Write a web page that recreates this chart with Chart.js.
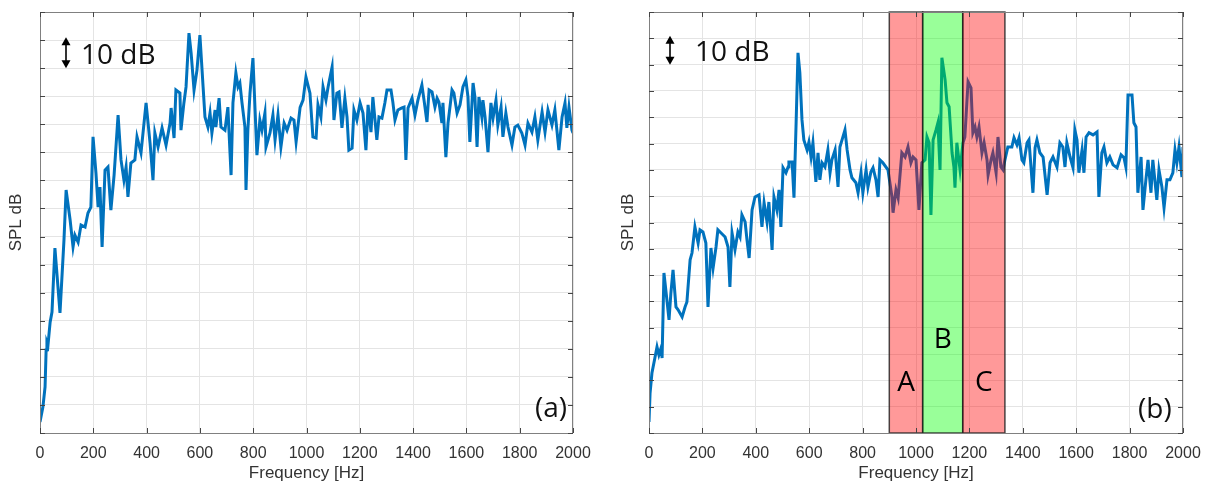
<!DOCTYPE html>
<html>
<head>
<meta charset="utf-8">
<script src="https://cdn.jsdelivr.net/npm/chart.js@4.4.0/dist/chart.umd.min.js"></script>
<style>
html, body { margin: 0; padding: 0; background: #fff; }
#wrap { position: relative; width: 1213px; height: 487px; }
canvas { position: absolute; top: 0; }
#c1 { left: 0; }
#c2 { left: 610px; }
</style>
</head>
<body>
<div id="wrap">
  <canvas id="c1" width="610" height="487"></canvas>
  <canvas id="c2" width="603" height="487"></canvas>
</div>
<script>
// x tick labels (Hz)
const freqTicks = [0, 200, 400, 600, 800, 1000, 1200, 1400, 1600, 1800, 2000];

// panel (a) spectrum
const freqA = [
  0, 11, 19, 23, 26, 30, 38, 45, 56, 75,
  90, 98, 113, 124, 131, 143, 154, 169, 180, 191,
  199, 210, 218, 225, 233, 244, 255, 266, 278, 293,
  304, 315, 323, 330, 341, 356, 364, 379, 398, 413,
  424, 431, 443, 458, 473, 488, 492, 503, 510, 525,
  529, 540, 548, 559, 567, 578, 589, 600, 612, 619,
  630, 638, 645, 657, 660, 672, 679, 694, 705, 713,
  717, 724, 735, 743, 750, 758, 769, 773, 780, 788,
  799, 807, 814, 825, 833, 844, 848, 863, 874, 882,
  893, 904, 916, 927, 942, 953, 961, 976, 987, 998,
  1013, 1024, 1036, 1043, 1054, 1062, 1073, 1081, 1096, 1103,
  1114, 1122, 1133, 1144, 1152, 1159, 1171, 1178, 1189, 1201,
  1212, 1223, 1231, 1242, 1249, 1264, 1272, 1283, 1294, 1302,
  1317, 1324, 1332, 1343, 1358, 1366, 1373, 1381, 1396, 1407,
  1418, 1433, 1441, 1452, 1460, 1471, 1482, 1490, 1497, 1508,
  1512, 1523, 1531, 1546, 1553, 1565, 1576, 1587, 1598, 1606,
  1613, 1625, 1632, 1640, 1647, 1658, 1662, 1670, 1681, 1692,
  1700, 1711, 1718, 1730, 1737, 1748, 1756, 1771, 1782, 1793,
  1808, 1820, 1831, 1846, 1857, 1868, 1884, 1895, 1906, 1921,
  1932, 1947, 1959, 1970, 1977, 1985, 1996, 2000
];
const splA = [
  3.9, 9.3, 16.4, 29.6, 32.4, 31.4, 39.5, 43.1, 65.9, 42.8,
  68.8, 86.6, 75.9, 66.3, 70.5, 68.0, 74.1, 73.4, 78.4, 80.5,
  105.5, 92.6, 80.5, 87.6, 66.3, 93.7, 94.8, 79.4, 91.9, 113.3,
  97.3, 90.1, 94.8, 84.1, 96.2, 97.3, 105.5, 99.8, 117.6, 103.3,
  90.1, 106.9, 101.9, 108.7, 102.6, 110.4, 115.8, 105.1, 122.2, 121.1,
  107.9, 117.6, 123.3, 142.5, 135.4, 122.2, 129.3, 141.8, 123.3, 112.6,
  109.0, 114.0, 106.9, 115.1, 109.0, 119.3, 109.0, 107.9, 116.1, 99.8,
  91.9, 117.6, 128.3, 123.3, 124.7, 117.6, 109.0, 86.6, 107.9, 121.1,
  133.6, 115.1, 99.0, 111.5, 107.9, 114.0, 101.9, 106.9, 113.3, 104.4,
  113.3, 101.9, 110.4, 107.9, 112.2, 111.5, 103.7, 116.0, 118.6, 126.8,
  121.1, 105.5, 105.1, 116.9, 112.6, 123.3, 118.6, 123.3, 130.4, 111.5,
  121.1, 121.5, 108.7, 119.3, 112.6, 100.8, 101.5, 115.1, 111.5, 117.6,
  114.0, 100.8, 116.9, 107.2, 119.7, 104.4, 112.6, 112.2, 117.6, 122.2,
  122.2, 117.9, 111.5, 115.1, 115.8, 116.1, 97.3, 115.8, 119.3, 113.3,
  118.6, 124.0, 118.6, 110.8, 122.2, 121.5, 116.1, 119.3, 117.9, 110.4,
  117.6, 98.3, 110.4, 122.2, 121.1, 114.0, 116.9, 123.3, 125.8, 119.7,
  103.7, 124.7, 119.7, 101.9, 119.7, 112.6, 118.6, 112.6, 100.1, 117.6,
  112.2, 118.6, 109.7, 116.1, 105.5, 114.0, 109.0, 102.6, 109.0, 109.7,
  106.9, 102.6, 110.4, 107.2, 112.6, 104.4, 114.4, 107.2, 115.1, 109.7,
  115.1, 100.8, 112.6, 117.6, 108.7, 116.1, 107.9, 106.9
];

// panel (b) spectrum
const freqB = [
  0, 4, 11, 22, 30, 37, 45, 49, 56, 67,
  75, 82, 90, 101, 109, 124, 135, 142, 154, 161,
  172, 184, 191, 202, 213, 221, 232, 240, 251, 258,
  270, 285, 296, 303, 311, 322, 333, 341, 348, 360,
  367, 375, 386, 397, 412, 423, 431, 442, 449, 461,
  468, 479, 487, 494, 502, 513, 521, 524, 536, 543,
  551, 558, 565, 573, 580, 592, 599, 607, 614, 625,
  633, 640, 648, 659, 670, 678, 685, 697, 708, 715,
  723, 734, 742, 753, 760, 775, 783, 794, 801, 813,
  820, 831, 839, 850, 858, 865, 876, 895, 910, 914,
  925, 933, 947, 959, 970, 981, 989, 1000, 1011, 1022,
  1034, 1041, 1049, 1056, 1064, 1075, 1082, 1090, 1097, 1109,
  1116, 1124, 1135, 1142, 1146, 1153, 1165, 1176, 1183, 1195,
  1206, 1213, 1221, 1228, 1236, 1247, 1255, 1266, 1270, 1281,
  1288, 1300, 1307, 1318, 1326, 1333, 1344, 1359, 1367, 1378,
  1386, 1397, 1404, 1416, 1423, 1438, 1446, 1453, 1464, 1476,
  1491, 1502, 1513, 1528, 1539, 1550, 1558, 1565, 1577, 1588,
  1595, 1603, 1610, 1622, 1629, 1637, 1648, 1663, 1678, 1685,
  1696, 1704, 1715, 1726, 1738, 1753, 1768, 1779, 1786, 1794,
  1809, 1816, 1824, 1831, 1843, 1850, 1861, 1869, 1880, 1887,
  1902, 1910, 1921, 1929, 1940, 1951, 1962, 1970, 1977, 1985,
  1996, 2000
];
const splB = [
  4.2, 15.2, 22.8, 28.5, 32.7, 29.7, 32.3, 28.5, 60.8, 50.6,
  43.0, 53.2, 62.0, 47.9, 46.8, 44.1, 47.9, 49.8, 65.8, 68.4,
  78.3, 72.2, 77.2, 76.4, 72.2, 47.9, 70.3, 62.7, 70.7, 77.2,
  76.0, 74.5, 70.7, 55.5, 76.0, 69.6, 76.4, 74.5, 82.9, 80.2,
  73.4, 66.5, 84.8, 89.7, 90.5, 78.3, 87.5, 80.2, 87.8, 69.6,
  89.7, 84.8, 92.4, 78.3, 100.8, 98.9, 101.1, 103.0, 103.0, 89.4,
  117.9, 144.5, 136.9, 119.0, 111.4, 107.6, 110.6, 104.9, 110.3, 95.4,
  106.5, 96.2, 102.7, 101.1, 107.6, 98.9, 103.8, 107.6, 93.5, 108.7,
  111.4, 115.2, 107.6, 100.0, 97.0, 95.1, 91.3, 98.9, 91.3, 100.0,
  93.5, 99.2, 100.8, 96.2, 89.7, 103.8, 102.7, 100.0, 89.7, 83.7,
  92.4, 89.4, 106.5, 104.9, 108.7, 102.7, 104.9, 103.8, 84.8, 102.7,
  103.8, 112.5, 110.3, 82.9, 111.4, 115.2, 117.9, 100.0, 142.6, 134.2,
  125.5, 124.0, 106.5, 101.1, 93.2, 110.3, 100.0, 110.3, 112.5, 133.5,
  131.2, 114.1, 116.3, 112.5, 116.3, 106.5, 110.3, 103.8, 98.1, 103.8,
  106.5, 98.9, 112.5, 101.1, 100.0, 103.8, 108.7, 108.7, 112.2, 109.5,
  112.2, 103.8, 102.7, 110.3, 111.4, 91.3, 108.4, 111.4, 106.5, 104.9,
  90.5, 102.7, 104.9, 101.1, 110.3, 108.7, 101.1, 110.3, 104.9, 100.8,
  115.2, 111.4, 98.9, 107.6, 98.9, 112.5, 114.1, 113.3, 114.4, 89.7,
  106.5, 108.7, 102.7, 104.9, 101.9, 100.8, 105.7, 104.6, 101.1, 128.5,
  128.5, 117.9, 116.3, 91.3, 104.9, 84.8, 96.2, 103.8, 91.3, 103.8,
  88.6, 100.0, 93.5, 85.6, 96.2, 96.2, 98.9, 107.6, 102.7, 108.7,
  97.3, 108.7
];

// frequency bands A, B, C in panel (b)
const bandEdges = [900, 1025, 1175, 1333];
const bandLabels = ['A', 'B', 'C'];
const bandLabelLevels = [19, 35.5, 19];

const BLUE = '#0072BD';
const bandFills = ['rgba(255,0,0,0.4)', 'rgba(0,255,0,0.4)', 'rgba(255,0,0,0.4)'];
const TXT = "'Open Sans', 'Noto Sans', sans-serif";

function drawArrow(ctx, x, y0, y1) {
  ctx.save();
  ctx.strokeStyle = '#000';
  ctx.fillStyle = '#000';
  ctx.lineWidth = 1.6;
  ctx.beginPath();
  ctx.moveTo(x, y0 + 5);
  ctx.lineTo(x, y1 - 5);
  ctx.stroke();
  ctx.beginPath();
  ctx.moveTo(x, y0); ctx.lineTo(x - 4.5, y0 + 8); ctx.lineTo(x + 4.5, y0 + 8);
  ctx.closePath(); ctx.fill();
  ctx.beginPath();
  ctx.moveTo(x, y1); ctx.lineTo(x - 4.5, y1 - 8); ctx.lineTo(x + 4.5, y1 - 8);
  ctx.closePath(); ctx.fill();
  ctx.restore();
}

function overlay(cfg) {
  return {
    id: 'overlay',
    afterDatasetsDraw(chart) {
      if (!cfg.bands) return;
      const {ctx, chartArea: a, scales: {x, y}} = chart;
      ctx.save();
      for (let i = 0; i < bandLabels.length; i++) {
        const x0 = x.getPixelForValue(bandEdges[i]);
        const x1 = x.getPixelForValue(bandEdges[i + 1]);
        ctx.fillStyle = bandFills[i];
        ctx.fillRect(x0, a.top, x1 - x0, a.bottom - a.top);
        ctx.strokeStyle = 'rgba(30,30,30,0.8)';
        ctx.lineWidth = 1.5;
        ctx.strokeRect(x0, a.top, x1 - x0, a.bottom - a.top);
      }
      ctx.fillStyle = '#000';
      ctx.font = '28px ' + TXT;
      ctx.textAlign = 'center';
      ctx.textBaseline = 'middle';
      for (let i = 0; i < bandLabels.length; i++) {
        const xc = x.getPixelForValue((bandEdges[i] + bandEdges[i + 1]) / 2);
        ctx.fillText(bandLabels[i], xc, y.getPixelForValue(bandLabelLevels[i]));
      }
      ctx.restore();
    },
    afterDraw(chart) {
      const {ctx, chartArea: a, scales: {x, y}} = chart;
      ctx.save();
      // box
      ctx.strokeStyle = '#808080';
      ctx.lineWidth = 1;
      ctx.strokeRect(Math.round(a.left) + 0.5, Math.round(a.top) + 0.5,
        Math.round(a.right - a.left) - 1, Math.round(a.bottom - a.top));
      // inward ticks
      ctx.strokeStyle = '#444';
      ctx.beginPath();
      x.ticks.forEach(t => {
        const px = Math.round(x.getPixelForValue(t.value)) + 0.5;
        ctx.moveTo(px, a.top); ctx.lineTo(px, a.top + 5);
        ctx.moveTo(px, a.bottom); ctx.lineTo(px, a.bottom - 5);
      });
      y.ticks.forEach(t => {
        const py = Math.round(y.getPixelForValue(t.value)) + 0.5;
        ctx.moveTo(a.left, py); ctx.lineTo(a.left + 5, py);
        ctx.moveTo(a.right, py); ctx.lineTo(a.right - 5, py);
      });
      ctx.stroke();
      // 10 dB scale arrow
      drawArrow(ctx, a.left + cfg.arrowDx, y.getPixelForValue(cfg.arrowTop), y.getPixelForValue(cfg.arrowTop - 11));
      ctx.fillStyle = '#111';
      ctx.font = '28px ' + TXT;
      ctx.textAlign = 'left';
      ctx.textBaseline = 'alphabetic';
      ctx.fillText('10 dB', a.left + cfg.textDx, cfg.textY);
      ctx.textBaseline = 'middle';
      ctx.fillText(cfg.tag, cfg.tagX, cfg.tagY);
      ctx.restore();
    }
  };
}

function makeChart(id, freqs, levels, cfg) {
  return new Chart(document.getElementById(id), {
    type: 'line',
    data: {
      datasets: [{
        data: freqs.map((f, i) => ({x: f, y: levels[i]})),
        borderColor: BLUE,
        borderWidth: 3,
        pointRadius: 0,
        tension: 0
      }]
    },
    options: {
      responsive: false,
      animation: false,
      layout: {padding: {top: 12, right: cfg.padRight, left: 0, bottom: 0}},
      plugins: {legend: {display: false}, tooltip: {enabled: false}},
      scales: {
        x: {
          type: 'linear',
          min: 0,
          max: 2000,
          afterBuildTicks: s => { s.ticks = freqTicks.map(v => ({value: v})); },
          afterFit: s => { s.height = 54; },
          grid: {color: '#e4e4e4', drawTicks: false},
          border: {display: false},
          ticks: {
            padding: 11,
            color: '#333',
            font: {family: "'Liberation Sans', Arial, sans-serif", size: 16},
            maxRotation: 0,
            callback: v => String(v)
          },
          title: {
            display: true,
            text: 'Frequency [Hz]',
            color: '#333',
            font: {family: "'Liberation Sans', Arial, sans-serif", size: 17},
            padding: {top: 0, bottom: 3}
          }
        },
        y: {
          min: 0,
          max: cfg.yMax,
          afterFit: s => { s.width = cfg.axisW; },
          grid: {color: '#e4e4e4', drawTicks: false},
          border: {display: false},
          ticks: {display: false, stepSize: 10},
          title: {
            display: true,
            text: 'SPL dB',
            color: '#333',
            font: {family: "'Liberation Sans', Arial, sans-serif", size: 17},
            padding: {top: cfg.titlePad, bottom: 0}
          }
        }
      }
    },
    plugins: [overlay(cfg)]
  });
}

makeChart('c1', freqA, splA, {
  yMax: 150, axisW: 40, padRight: 37, titlePad: 6,
  arrowDx: 26, arrowTop: 141, textDx: 41, textY: 64,
  tag: '(a)', tagX: 535, tagY: 409, bands: false
});
makeChart('c2', freqB, splB, {
  yMax: 160, axisW: 39, padRight: 30, titlePad: 8,
  arrowDx: 21, arrowTop: 151, textDx: 46, textY: 61,
  tag: '(b)', tagX: 528, tagY: 410, bands: true
});
</script>
</body>
</html>
